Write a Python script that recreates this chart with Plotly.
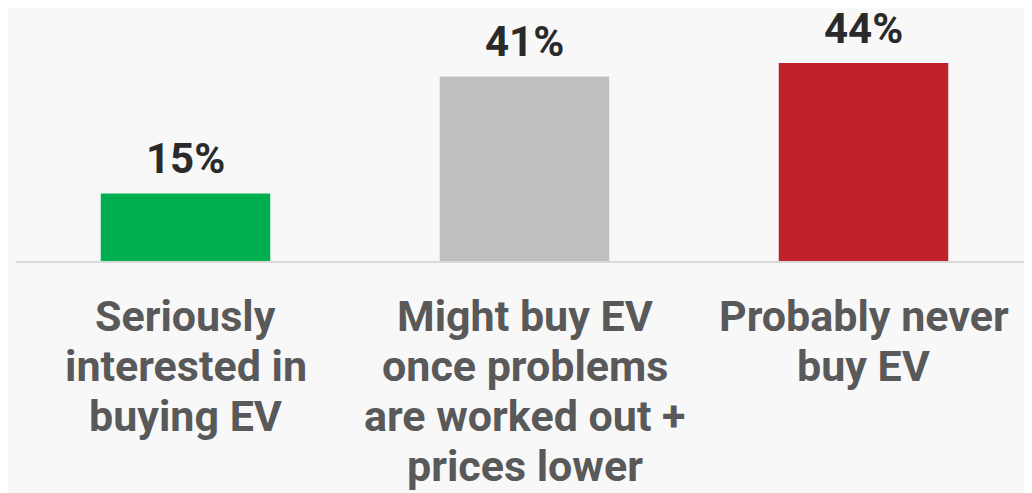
import plotly.graph_objects as go

categories = [
    "Seriously<br>interested in<br>buying EV",
    "Might buy EV<br>once problems<br>are worked out +<br>prices lower",
    "Probably never<br>buy EV",
]
values = [15, 41, 44]
value_labels = ["15%", "41%", "44%"]
colors = ["#00b050", "#bfbfbf", "#c0222a"]

fig = go.Figure()
fig.add_trace(go.Bar(
    x=categories,
    y=values,
    marker=dict(color=colors, line=dict(width=0)),
    width=0.5,
    hoverinfo="skip",
))

for c, v, t in zip(categories, values, value_labels):
    fig.add_annotation(
        x=c, y=v, text=t, showarrow=False,
        yanchor="bottom", yshift=9, borderpad=0,
        font=dict(family="Roboto", size=42, color="#2a2a2a", weight="bold"),
    )

# category labels, one annotation per line for tighter line spacing
for c in categories:
    for i, line in enumerate(c.split("<br>")):
        fig.add_annotation(
            x=c, y=0, text=line, showarrow=False,
            yanchor="middle", yshift=-(55 + 50 * i),
            font=dict(family="Roboto", size=43, color="#595959", weight="bold"),
        )

fig.update_layout(
    width=1032, height=493,
    margin=dict(l=8, r=7, t=0, b=240),
    paper_bgcolor="#f8f8f8",
    plot_bgcolor="#f8f8f8",
    showlegend=False,
    xaxis=dict(
        showgrid=False, zeroline=False,
        showline=True, linecolor="#d9d9d9", linewidth=2,
        showticklabels=False, ticks="",
        fixedrange=True,
    ),
    yaxis=dict(
        range=[0, 56.2], visible=False, fixedrange=True,
    ),
)

fig.write_html("out.html")
